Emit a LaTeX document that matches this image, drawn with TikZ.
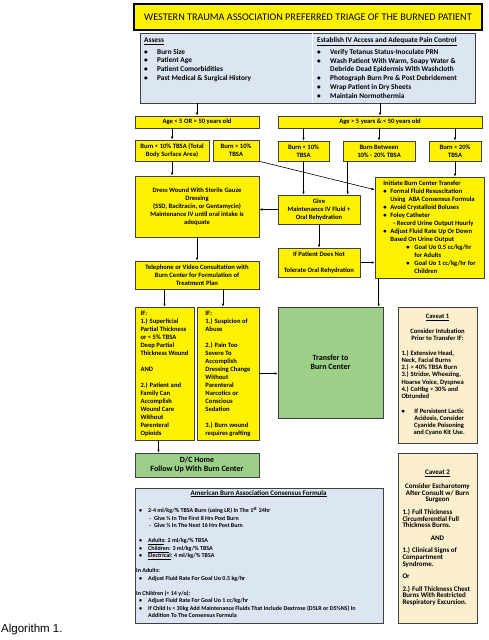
\documentclass[tikz,border=0pt]{standalone}
\usepackage{fontspec}
\setmainfont{Carlito}
\newfontfamily\capfont{Liberation Sans}
\usetikzlibrary{
    arrows.meta,
    positioning
}

\definecolor{triyellow}{HTML}{FFF200}
\definecolor{triblue}{HTML}{DCE6F2}
\definecolor{trigreen}{HTML}{9CCF87}
\definecolor{tritan}{HTML}{FBEFCE}
\definecolor{triline}{HTML}{404040}

\newcommand{\bitem}[2][13pt]{\makebox[#1][l]{\textbullet}#2}
\newcommand{\lft}[2][72pt]{\makebox[#1][l]{#2}}

\tikzset{
    dims/.style 2 args={minimum width=#1pt, minimum height=#2pt},
    box/.style={draw=triline, line width=0.6pt, inner sep=1pt, align=center,
                font=\fontsize{6.6}{8}\selectfont\bfseries},
    yellowbox/.style={box, fill=triyellow},
    greenbox/.style={box, fill=trigreen, font=\fontsize{8}{9}\selectfont\bfseries},
    cavbox/.style={box, fill=tritan},
    bluebox/.style={box, fill=triblue},
    bluetext/.style={anchor=north west, inner sep=0pt, align=left,
                font=\fontsize{7.3}{8.7}\selectfont\bfseries},
    flow/.style={-{Latex[length=3.2pt,width=2.6pt]}, line width=0.6pt}
}

\begin{document}
\begin{tikzpicture}[x=1pt, y=-1pt]
    \useasboundingbox (0,0) rectangle (488,640);

    % header
    \node[yellowbox, dims={348}{26}, draw=black, line width=2pt,
          font=\fontsize{10.2}{12}\selectfont] (title) at (308,17)
          {WESTERN TRAUMA ASSOCIATION PREFERRED TRIAGE OF THE BURNED PATIENT};
    \node[bluebox, dims={335}{70}] (prep) at (307.5,68) {};
    \draw[white, line width=0.8pt] ([xshift=4.5pt,yshift=-0.5pt]prep.north)
                                  -- ([xshift=4.5pt,yshift=0.5pt]prep.south);
    \node[bluetext] (assess) at (144,37.5) {\underline{Assess}\\[3pt]
        \bitem{Burn Size}\\
        \bitem{Patient Age}\\
        \bitem{Patient Comorbidities}\\
        \bitem{Past Medical \& Surgical History}};
    \node[bluetext] (access) at (317,37.5)
        {\underline{Establish IV Access and Adequate Pain Control}\\[3pt]
        \bitem{Verify Tetanus Status-Inoculate PRN}\\
        \bitem{Wash Patient With Warm, Soapy Water \&}\\
        \hspace*{13pt}Debride Dead Epidermis With Washcloth\\
        \bitem{Photograph Burn Pre \& Post Debridement}\\
        \bitem{Wrap Patient in Dry Sheets}\\
        \bitem{Maintain Normothermia}};

    % age and burn size
    \node[yellowbox, dims={124}{12}] (young) at (197,122) {Age < 5 OR > 50 years old};
    \node[yellowbox, dims={204}{12}] (adult) at (380,122) {Age > 5 years \& < 50 years old};

    \node[yellowbox, dims={74}{21}] (smallold) at (172,150.5) {Burn < 10\% TBSA (Total\\Body Surface Area)};
    \node[yellowbox, dims={46}{21}] (largeold) at (236,150.5) {Burn > 10\%\\TBSA};
    \node[yellowbox, dims={51}{20}] (small) at (303.5,151) {Burn < 10\%\\TBSA};
    \node[yellowbox, dims={72}{20}] (medium) at (379,151) {Burn Between\\10\% - 20\% TBSA};
    \node[yellowbox, dims={52}{20}] (large) at (455,151) {Burn > 20\%\\TBSA};

    % treatment
    \node[yellowbox, dims={124}{61}] (dress) at (197,206.5)
        {Dress Wound With Sterile Gauze\\Dressing\\(SSD, Bacitracin, or Gentamycin)\\
         Maintenance IV until oral intake is\\adequate};
    \node[yellowbox, dims={82}{29}] (give) at (319,209.5) {Give\\Maintenance IV Fluid +\\Oral Rehydration};
    \node[yellowbox, dims={82}{29}] (noral) at (319,262.5) {If Patient Does Not\\[7.7pt]Tolerate Oral Rehydration};
    \node[yellowbox, dims={124}{28}] (phone) at (197,275)
        {Telephone or Video Consultation with\\Burn Center for Formulation of\\Treatment Plan};
    \node[yellowbox, dims={109}{101}, align=left] (initiate) at (429.5,227.5)
        {Initiate Burn Center Transfer\\
         \bitem[7pt]{Formal Fluid Resuscitation}\\
         \hspace*{7pt}Using~ ABA Consensus Formula\\
         \bitem[7pt]{Avoid Crystalloid Boluses}\\
         \bitem[7pt]{Foley Catheter}\\
         \hspace*{10pt}- Record Urine Output Hourly\\
         \bitem[7pt]{Adjust Fluid Rate Up Or Down}\\
         \hspace*{7pt}Based On Urine Output\\
         \hspace*{23pt}\bitem[8pt]{Goal Uo 0.5 cc/kg/hr}\\
         \hspace*{31pt}for Adults\\
         \hspace*{23pt}\bitem[8pt]{Goal Uo 1 cc/kg/hr for}\\
         \hspace*{31pt}Children};

    % criteria
    \node[yellowbox, dims={59}{133}, align=left] (outcrit) at (164.5,373.5)
        {IF:\\1.) Superficial\\Partial Thickness\\or < 5\% TBSA\\Deep Partial\\Thickness Wound\\[8pt]
         AND\\[8pt]2.) Patient and\\Family Can\\Accomplish\\Wound Care\\Without\\Parenteral\\Opioids};
    \node[yellowbox, dims={62}{133}, align=left] (transcrit) at (228,373.5)
        {IF:\\1.) Suspicion of\\Abuse\\[8pt]2.) Pain Too\\Severe To\\Accomplish\\Dressing Change\\
         Without\\Parenteral\\Narcotics or\\Conscious\\Sedation\\[8pt]3.) Burn wound\\requires grafting};
    \node[greenbox, dims={105}{111}] (transfer) at (330.5,362.5) {Transfer to\\Burn Center};
    \node[greenbox, dims={124}{24}] (home) at (197,465) {D/C Home\\Follow Up With Burn Center};

    % caveats
    \node[cavbox, dims={79}{136}, font=\fontsize{6.6}{7.2}\selectfont\bfseries] (caveatA) at (437.5,375)
        {\underline{Caveat 1}\\[7.5pt]
         Consider Intubation\\Prior to Transfer IF:\\[7.5pt]
         \lft{1.) Extensive Head,}\\
         \lft{Neck, Facial Burns}\\
         \lft{2.) > 40\% TBSA Burn}\\
         \lft{3.) Stridor, Wheezing,}\\
         \lft{Hoarse Voice, Dyspnea}\\
         \lft{4.) CoHbg > 30\% and}\\
         \lft{Obtunded}\\[7.5pt]
         \lft{\textbullet\hfill If Persistent Lactic\hfill}\\
         \lft{\phantom{\textbullet}\hfill Acidosis, Consider\hfill}\\
         \lft{\phantom{\textbullet}\hfill Cyanide Poisoning\hfill}\\
         \lft{\phantom{\textbullet}\hfill and Cyano Kit Use.\hfill}};
    \node[cavbox, dims={79}{170}, font=\fontsize{7}{6.7}\selectfont\bfseries] (caveatB) at (437.5,538)
        {\underline{Caveat 2}\\[5.8pt]
         Consider Escharotomy\\After Consult w/ Burn\\Surgeon\\[5.8pt]
         \lft[70pt]{1.) Full Thickness}\\
         \lft[70pt]{Circumferential Full}\\
         \lft[70pt]{Thickness Burns.}\\[5.8pt]
         AND\\[5.8pt]
         \lft[70pt]{1.) Clinical Signs of}\\
         \lft[70pt]{Compartment}\\
         \lft[70pt]{Syndrome.}\\[5.8pt]
         \lft[70pt]{Or}\\[5.8pt]
         \lft[70pt]{2.) Full Thickness Chest}\\
         \lft[70pt]{Burns With Restricted}\\
         \lft[70pt]{Respiratory Excursion.}};

    % consensus formula
    \node[bluebox, dims={248}{135}] (aba) at (259,555.5) {};
    \node[anchor=north west, inner sep=0pt, align=left,
          font=\fontsize{6}{7.5}\selectfont\bfseries] (abatext) at (136,490)
        {\makebox[245pt]{\fontsize{7}{7.5}\selectfont\underline{American Burn Association Consensus Formula}}\\[9pt]
         \hspace*{3pt}\bitem[9pt]{2-4 ml/kg/\% TBSA Burn (using LR) In The 1\textsuperscript{st} 24hr}\\
         \hspace*{13pt}-\hspace{3pt}Give ½ In The First 8 Hrs Post Burn\\
         \hspace*{13pt}-\hspace{3pt}Give ½ In The Next 16 Hrs Post Burn\\[7.5pt]
         \hspace*{3pt}\bitem[9pt]{\underline{Adults}: 2 ml/kg/\% TBSA}\\
         \hspace*{3pt}\bitem[9pt]{\underline{Children}: 3 ml/kg/\% TBSA}\\
         \hspace*{3pt}\bitem[9pt]{\underline{Electrical}: 4 ml/kg/\% TBSA}\\[7.5pt]
         In Adults:\\
         \hspace*{3pt}\bitem[9pt]{Adjust Fluid Rate For Goal Uo 0.5 kg/hr}\\[7.5pt]
         In Children (< 14 y/o):\\
         \hspace*{3pt}\bitem[9pt]{Adjust Fluid Rate For Goal Uo 1 cc/kg/hr}\\
         \hspace*{3pt}\bitem[9pt]{If Child Is < 30kg Add Maintenance Fluids That Include Dextrose (D5LR or D5½NS) In}\\
         \hspace*{12pt}Addition To The Consensus Formula};

    \node[anchor=base west, inner sep=0pt, font=\capfont\fontsize{11.5}{13}\selectfont] (caption) at (1,632.7) {Algorithm 1.};

    % connectors
    \coordinate (sidein) at ([yshift=-13pt]initiate.north west);
    \coordinate (feedx) at ([xshift=5pt]medium.south west);
    \coordinate (dropx) at ([xshift=4pt]initiate.south west);
    \coordinate (abusex) at ([xshift=-5pt]transcrit.north);
    \coordinate (homex) at ([xshift=-6pt]outcrit.south);

    \draw[flow] (prep.south -| young.north) -- (young.north);
    \draw[flow] (prep.south -| adult.north) -- (adult.north);
    \draw[flow] (young.south -| smallold.north) -- (smallold.north);
    \draw[flow] (adult.south -| small.north) -- (small.north);
    \draw[flow] (adult.south -| medium.north) -- (medium.north);
    \draw[flow] (adult.south -| large.north) -- (large.north);
    \draw[flow] (smallold.south) -- (smallold.south |- dress.north);
    \draw[flow] (largeold.south east) -- (sidein);
    \draw[flow] (small.south) -- (small.south |- give.north);
    \draw[flow] (feedx) -- (feedx |- give.north);
    \draw[flow] (large.south) -- (large.south |- initiate.north);
    \draw[flow] (give.west) -- (give.west -| dress.east);
    \draw[flow] (give.south) -- (noral.north);
    \draw[flow] (noral.east) -- (noral.east -| initiate.west);
    \draw[flow] (dress.south) -- (phone.north);
    \draw[flow] (dropx) -- (dropx |- transfer.north);
    \draw[flow] (phone.south -| outcrit.north) -- (outcrit.north);
    \draw[flow] (phone.south -| abusex) -- (abusex);
    \draw[flow] (transcrit.east) -- (transcrit.east -| transfer.west);
    \draw[flow] (homex) -- (homex |- home.north);
\end{tikzpicture}
\end{document}
